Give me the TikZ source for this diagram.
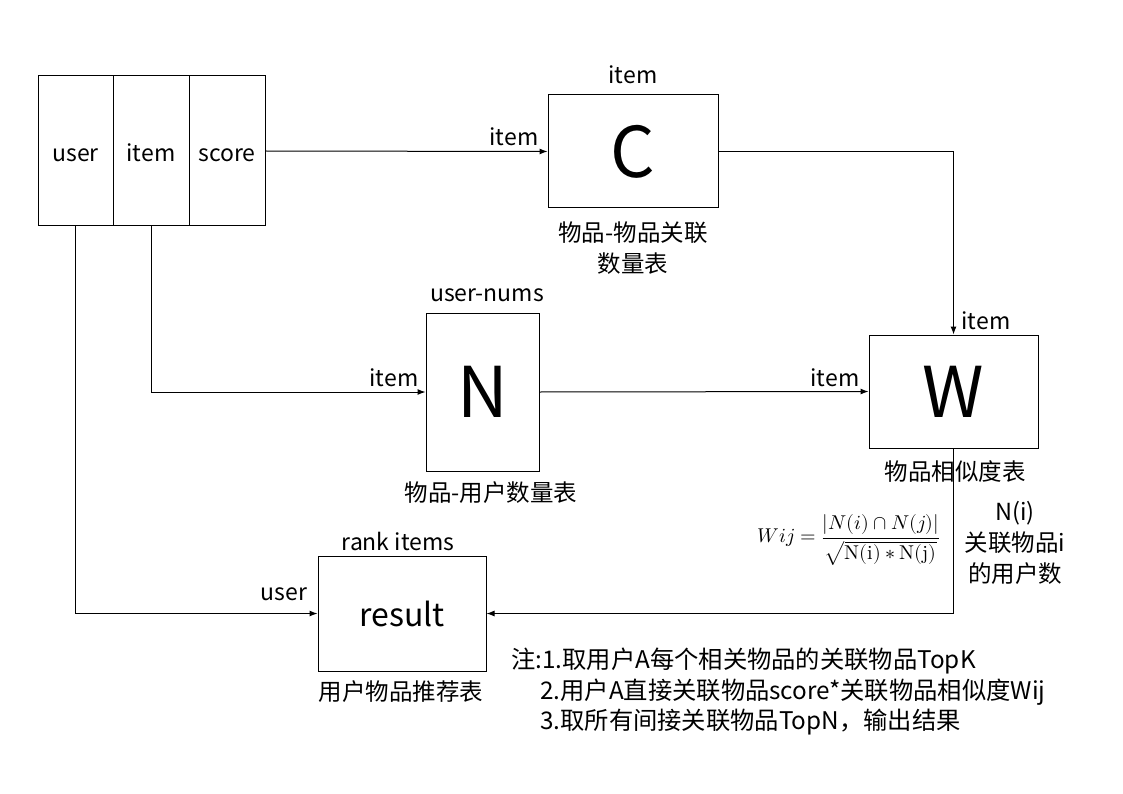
\documentclass[tikz,border=0pt]{standalone}
\usepackage{fontspec}
\usepackage{unicode-math}
\setmainfont{Noto Sans CJK SC}
\setmathfont{Latin Modern Math}
\usetikzlibrary{arrows.meta}
\tikzset{
  box/.style={draw=black,line width=1pt,inner sep=0pt,anchor=center},
  txt/.style={inner sep=0pt,anchor=center,font=\fontsize{23}{30}\selectfont},
  celltxt/.style={inner sep=0pt,anchor=base,font=\fontsize{23}{30}\selectfont},
  captxt/.style={inner sep=0pt,anchor=center,font=\fontsize{23.5}{31}\selectfont},
  big/.style={font=\fontsize{70}{80}\selectfont},
  mid/.style={font=\fontsize{32}{36}\selectfont},
  arr/.style={draw=black,line width=1pt,-{Latex[length=8pt,width=6pt]}},
  notetxt/.style={inner sep=0pt,anchor=west,font=\fontsize{24.3}{30}\selectfont},
  mathtxt/.style={inner sep=0pt,anchor=center,font=\fontsize{20}{24}\selectfont}
}
\begin{document}
\begin{tikzpicture}[x=1pt,y=-1pt]
\useasboundingbox (0,0) rectangle (1123,794);
% table
\node[box,minimum width=75pt,minimum height=150pt] (ucell) at (75.5,151) {};
\node[box,minimum width=76pt,minimum height=150pt] (icell) at (151,151) {};
\node[box,minimum width=76pt,minimum height=150pt] (scell) at (227,151) {};
\node[celltxt] (ut) at (75.5,162) {user};
\node[celltxt] (it) at (151,162) {item};
\node[celltxt] (st) at (227,162) {score};
% C
\node[box,big,minimum width=170pt,minimum height=113pt] (C) at (633,151.5) {C};
\node[txt] (Ctop) at (633,75) {item};
\node[captxt,align=center] (Ccap) at (633,248) {物品-物品关联\\数量表};
% N
\node[box,big,minimum width=113pt,minimum height=158pt] (N) at (482.5,392) {N};
\node[txt] (Ntop) at (487,295) {user-nums};
\node[captxt] (Ncap) at (491,493) {物品-用户数量表};
% W
\node[box,big,minimum width=169pt,minimum height=113pt] (W) at (953.5,391.5) {W};
\node[captxt] (Wcap) at (955,472) {物品相似度表};
% result
\node[box,mid,minimum width=168pt,minimum height=115pt] (R) at (402,613.5) {result};
\node[txt] (Rtop) at (398,541) {rank items};
\node[captxt] (Rcap) at (401,692) {用户物品推荐表};
% connectors
\draw[arr] (scell.east) -- (C.west);
\node[txt] (l1) at (514,137) {item};
\draw[arr] (C.east) -| (W.north);
\node[txt] (l2) at (986,321) {item};
\draw[arr] (icell.south) |- (N.west);
\node[txt] (l3) at (394,378) {item};
\draw[arr] (N.east) -- (W.west);
\node[txt] (l4) at (835,378) {item};
\draw[arr] (ucell.south) |- (R.west);
\node[txt] (l5) at (284,594) {user};
\draw[arr] (W.south) |- (R.east);
% formula
\node[mathtxt] (F) at (849,540) {$\displaystyle Wij=\frac{|N(i)\cap N(j)|}{\sqrt{\symup{N}(\symup{i})*\symup{N}(\symup{j})}}$};
\node[captxt,align=center] (Ni) at (1015,543) {N(i)\\关联物品i\\的用户数};
% note
\node[notetxt] (n1) at (511,661) {注:1.取用户A每个相关物品的关联物品TopK};
\node[notetxt] (n2) at (540,692) {2.用户A直接关联物品score*关联物品相似度Wij};
\node[notetxt] (n3) at (540,722) {3.取所有间接关联物品TopN，输出结果};
\end{tikzpicture}
\end{document}
